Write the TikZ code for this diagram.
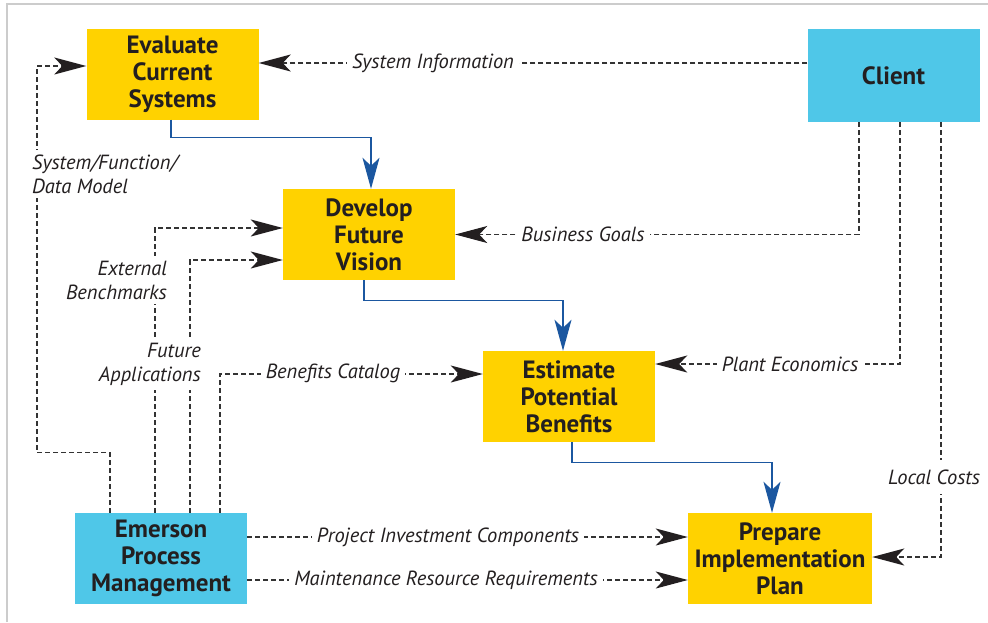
\documentclass[tikz,border=0pt]{standalone}
\usepackage{fontspec}
\setmainfont{PT Sans}
\usetikzlibrary{arrows.meta}
\definecolor{taskfill}{HTML}{FFD200}
\definecolor{partyfill}{HTML}{4FC7E8}
\definecolor{flowblue}{HTML}{1B57A0}
\definecolor{inktext}{HTML}{231F20}
\tikzset{
  box/.style={minimum width=172pt, minimum height=91pt, inner sep=0pt,
    align=center, text=inktext, font=\bfseries\fontsize{25}{27}\selectfont},
  task/.style={box, fill=taskfill},
  party/.style={box, fill=partyfill},
  flow/.style={-{Stealth[length=31pt,width=17pt,inset=8pt]}, flowblue, line width=1.4pt},
  info/.style={-{Stealth[length=32pt,width=17pt,inset=8pt,color=inktext]},
    black!80, line width=1.2pt, dash pattern=on 5pt off 3pt},
  lbl/.style={fill=white, text=inktext, inner sep=5pt,
    font=\itshape\fontsize{20.5}{24}\selectfont}
}
\begin{document}
\begin{tikzpicture}[x=1pt,y=-1pt]
  \useasboundingbox (0,0) rectangle (988,622);
  \draw[black!20, line width=1.5pt] (7,622) -- (7,4) -- (988,4);

  \node (eval) [task] at (172.5,74) {Evaluate\\Current\\Systems};
  \node (client) [party, minimum height=93pt] at (893.5,75.5) {Client};
  \node (develop) [task] at (369,234.5) {Develop\\Future\\Vision};
  \node (estimate) [task] at (569,396.5) {Estimate\\Potential\\Benefits};
  \node (prepare) [task, minimum width=184pt] at (780,558.5) {Prepare\\Implementation\\Plan};
  \node (emerson) [party] at (161,558.5) {Emerson\\Process\\Management};

  \draw[flow] ([xshift=-1.5pt]eval.south) -- ++(0,18) -| ([xshift=2pt]develop.north);
  \draw[flow] ([xshift=-5pt]develop.south) -- ++(0,20) -| ([xshift=-6pt]estimate.north);
  \draw[flow] ([xshift=3pt]estimate.south) -- ++(0,20) -| ([xshift=-8pt]prepare.north);

  \draw[info] ([yshift=12.5pt]client.west) -- ([yshift=11pt]eval.east);
  \draw[info] ([xshift=-34.5pt]client.south) |- (develop.east);
  \draw[info] ([xshift=6.5pt]client.south) |- ([yshift=32.5pt]estimate.east);
  \draw[info] ([xshift=47.5pt]client.south) |- ([yshift=1.5pt]prepare.east);
  \draw[info] ([xshift=-51pt]emerson.north) -- ++(0,-60) -- ++(-73,0) |- ([yshift=8pt]eval.west);
  \draw[info] ([xshift=-6pt]emerson.north) |- ([yshift=6.5pt]develop.west);
  \draw[info] ([xshift=29pt]emerson.north) |- ([yshift=-25.5pt]develop.west);
  \draw[info] ([xshift=59pt]emerson.north) |- ([yshift=22.5pt]estimate.west);
  \draw[info] ([yshift=21.5pt]emerson.east) -- ([yshift=21.5pt]prepare.west);
  \draw[info] ([yshift=-21.5pt]emerson.east) -- ([yshift=-21.5pt]prepare.west);

  \node (sysinfo) [lbl] at (433,63) {System Information};
  \node (goals) [lbl] at (583,234) {Business Goals};
  \node (plant) [lbl] at (790,364) {Plant Economics};
  \node (local) [lbl, inner ysep=10pt] at (934,477) {Local Costs};
  \node (model) [lbl, align=left, anchor=west] at (27,174) {System/Function/\\Data Model};
  \node (bench) [lbl, align=right, anchor=east] at (172,280) {External\\Benchmarks};
  \node (future) [lbl, align=right, anchor=east] at (206,364) {Future\\Applications};
  \node (catalog) [lbl] at (333,373) {Benefits Catalog};
  \node (invest) [lbl] at (448,537) {Project Investment Components};
  \node (maint) [lbl] at (446,580) {Maintenance Resource Requirements};
\end{tikzpicture}
\end{document}
